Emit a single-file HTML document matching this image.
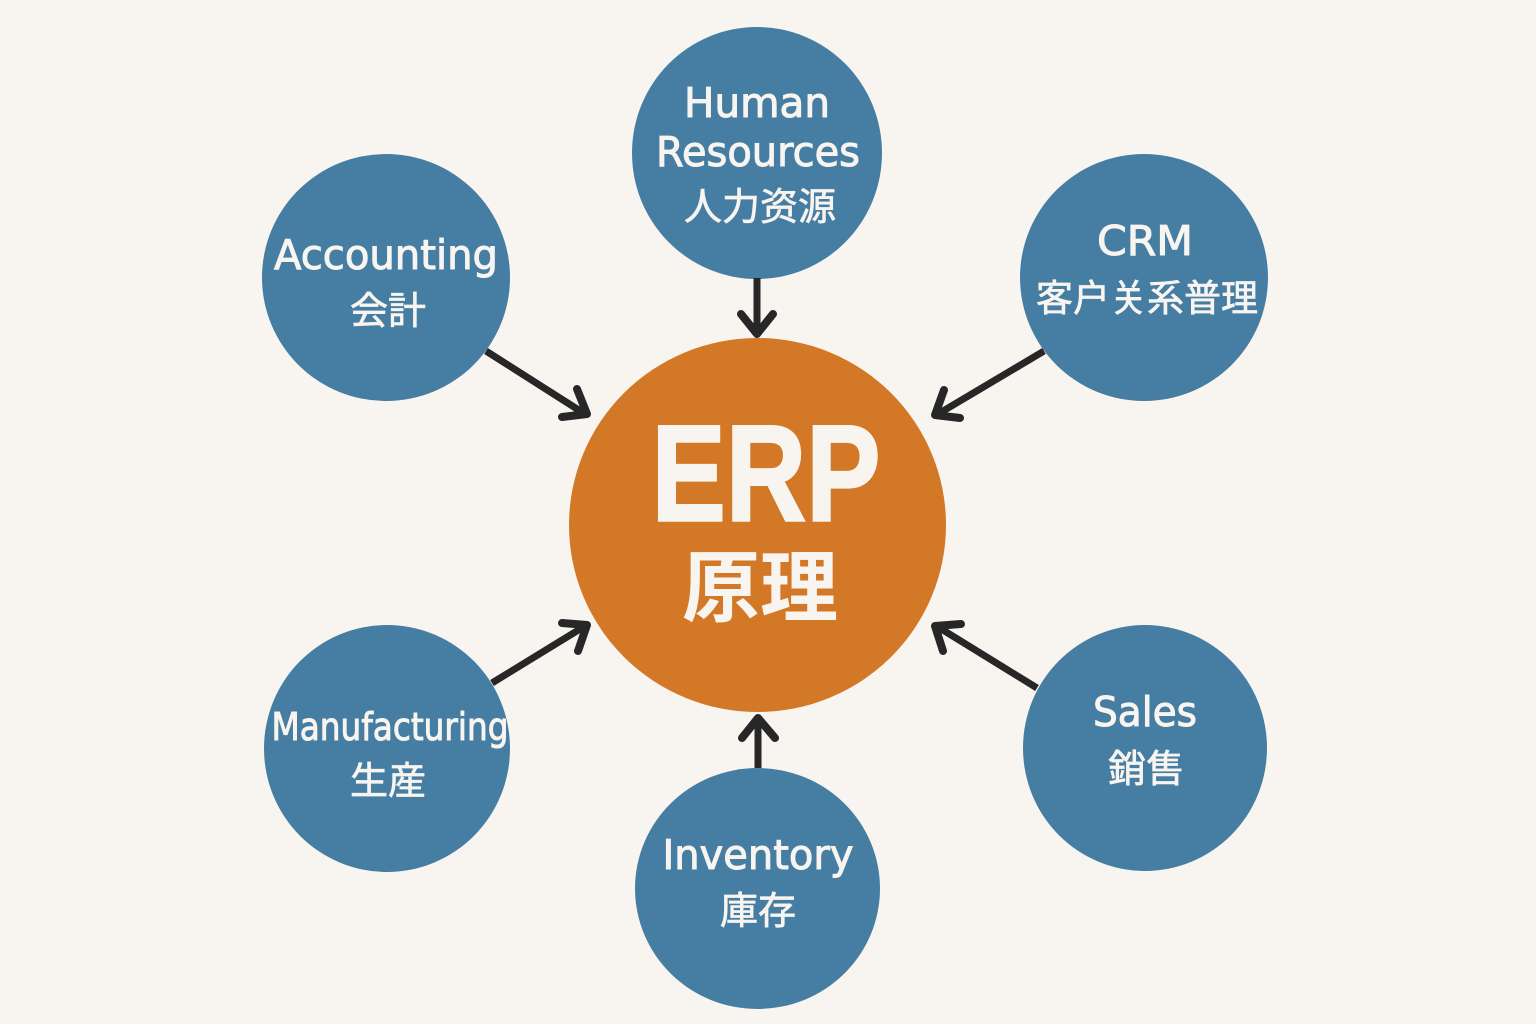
<!DOCTYPE html>
<html>
<head>
<meta charset="utf-8">
<style>
html,body{margin:0;padding:0;background:#f8f5f0;}
svg{display:block;}
text{font-family:"DejaVu Sans","Liberation Sans","Noto Sans CJK SC",sans-serif;fill:#f8f5f0;stroke:#f8f5f0;stroke-width:1;text-anchor:middle;}
.cjk{font-family:"Noto Sans CJK JP","Noto Sans CJK SC",sans-serif;stroke-width:.7;}
.a{stroke:#272727;stroke-width:8;fill:none;stroke-linecap:round;stroke-linejoin:round;}
.s{stroke:#272727;stroke-width:7;fill:none;stroke-linecap:butt;}
</style>
</head>
<body>
<svg width="1536" height="1024" viewBox="0 0 1536 1024" xmlns="http://www.w3.org/2000/svg">
<rect width="1536" height="1024" fill="#f8f5f0"/>

<ellipse cx="757.500" cy="525" rx="188.500" ry="187" fill="#d37827"/>
<ellipse cx="757" cy="153" rx="125" ry="126" fill="#457da3"/>
<ellipse cx="386" cy="277.500" rx="124" ry="123.500" fill="#457da3"/>
<ellipse cx="1144" cy="277.500" rx="124" ry="123.500" fill="#457da3"/>
<ellipse cx="387" cy="748.500" rx="123" ry="123.500" fill="#457da3"/>
<ellipse cx="1145" cy="748" rx="122" ry="123" fill="#457da3"/>
<ellipse cx="757.500" cy="888.500" rx="122.500" ry="120.500" fill="#457da3"/>

<path class="s" d="M757 278V333"/><path class="a" d="M741 314L757 334L773 314"/>
<path class="s" d="M486 351L585 414"/><path class="a" d="M562 417L587 414L577 389"/>
<path class="s" d="M1044 351L938 414"/><path class="a" d="M960 418L935 415L944 390"/>
<path class="s" d="M492 683L585 626"/><path class="a" d="M562 623L587 625L578 651"/>
<path class="s" d="M1037 688L938 627"/><path class="a" d="M961 624L935 626L943 651"/>
<path class="s" d="M758 768V720"/><path class="a" d="M742 738L758 718L775 738"/>

<text x="766" y="520.500" font-size="137" font-weight="700" textLength="229" lengthAdjust="spacingAndGlyphs" style="font-family:'Liberation Sans',sans-serif;stroke-width:2.500">ERP</text>
<text x="760" y="615" font-size="78" font-weight="700" class="cjk" style="stroke-width:0">原理</text>

<text x="757" y="117" font-size="41" textLength="146" lengthAdjust="spacingAndGlyphs">Human</text>
<text x="758" y="166" font-size="41" textLength="204" lengthAdjust="spacingAndGlyphs">Resources</text>
<text x="760" y="220" font-size="38" class="cjk">人力资源</text>

<text x="386" y="269" font-size="41" textLength="224" lengthAdjust="spacingAndGlyphs">Accounting</text>
<text x="388" y="324" font-size="38" class="cjk">会計</text>

<text x="1145" y="255" font-size="41" textLength="96" lengthAdjust="spacingAndGlyphs">CRM</text>
<text x="1147" y="311" font-size="37" class="cjk">客户关系普理</text>

<text x="390" y="740" font-size="38" textLength="237" lengthAdjust="spacingAndGlyphs">Manufacturing</text>
<text x="388" y="794" font-size="38" class="cjk">生産</text>

<text x="1145" y="726" font-size="41" textLength="104" lengthAdjust="spacingAndGlyphs">Sales</text>
<text x="1146" y="782" font-size="38" class="cjk">銷售</text>

<text x="758" y="869" font-size="41" textLength="191" lengthAdjust="spacingAndGlyphs">Inventory</text>
<text x="758" y="924" font-size="38" class="cjk">庫存</text>
</svg>
</body>
</html>
